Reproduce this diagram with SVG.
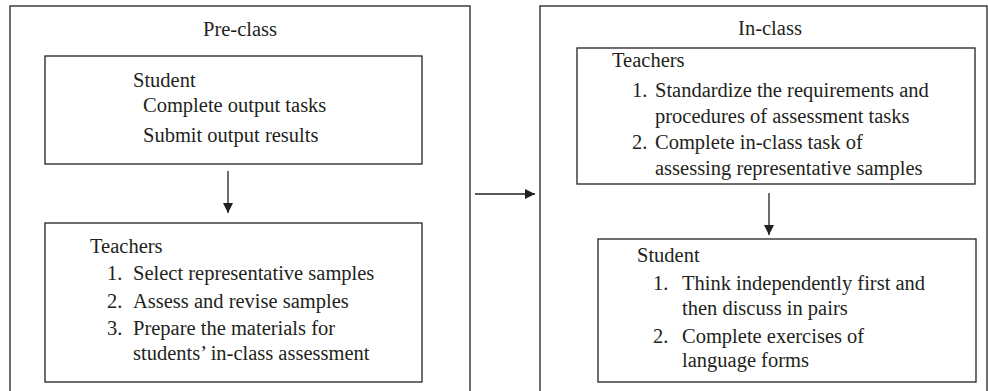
<svg xmlns="http://www.w3.org/2000/svg" width="988" height="391" viewBox="0 0 988 391">
<style>
.box{fill:none;stroke:#231f20;stroke-width:1.3}
.t{font-family:"Liberation Serif","Times New Roman",serif;font-size:20.5px;fill:#231f20}
.c{stroke:#231f20;stroke-width:1.3;fill:none}
</style>
<defs>
<marker id="ah" viewBox="0 0 10 10" refX="10" refY="5" markerWidth="10" markerHeight="10" markerUnits="userSpaceOnUse" orient="auto">
<path d="M0,0 L10,5 L0,10 z" fill="#231f20"/>
</marker>
</defs>
<g id="preclass">
<rect class="box" x="10" y="6" width="460" height="395"/>
<text class="t" x="240" y="36" text-anchor="middle">Pre-class</text>
</g>
<g id="pre-student">
<rect class="box" x="45" y="56" width="377" height="108"/>
<text class="t" x="133" y="87">Student</text>
<text class="t" x="143" y="112">Complete output tasks</text>
<text class="t" x="143" y="142">Submit output results</text>
</g>
<g id="pre-teachers">
<rect class="box" x="45" y="223" width="377" height="159"/>
<text class="t" x="90" y="253">Teachers</text>
<text class="t" x="107" y="280">1.</text><text class="t" x="133" y="280">Select representative samples</text>
<text class="t" x="107" y="308">2.</text><text class="t" x="133" y="308">Assess and revise samples</text>
<text class="t" x="107" y="335">3.</text><text class="t" x="133" y="335">Prepare the materials for</text>
<text class="t" x="133" y="360">students’ in-class assessment</text>
</g>
<g id="inclass">
<rect class="box" x="540" y="6" width="447" height="395"/>
<text class="t" x="770" y="35" text-anchor="middle">In-class</text>
</g>
<g id="in-teachers">
<rect class="box" x="577" y="48" width="398" height="136"/>
<text class="t" x="612" y="67">Teachers</text>
<text class="t" x="632" y="97">1.</text><text class="t" x="655" y="97">Standardize the requirements and</text>
<text class="t" x="655" y="123">procedures of assessment tasks</text>
<text class="t" x="632" y="149">2.</text><text class="t" x="655" y="149">Complete in-class task of</text>
<text class="t" x="655" y="175">assessing representative samples</text>
</g>
<g id="in-student">
<rect class="box" x="598" y="239" width="378" height="143"/>
<text class="t" x="637" y="262">Student</text>
<text class="t" x="653" y="290">1.</text><text class="t" x="682" y="290">Think independently first and</text>
<text class="t" x="682" y="315">then discuss in pairs</text>
<text class="t" x="653" y="343">2.</text><text class="t" x="682" y="343">Complete exercises of</text>
<text class="t" x="682" y="367">language forms</text>
</g>
<g id="connectors">
<line class="c" x1="228" y1="171" x2="228" y2="213" marker-end="url(#ah)"/>
<line class="c" x1="475" y1="194" x2="535" y2="194" marker-end="url(#ah)"/>
<line class="c" x1="769" y1="193" x2="769" y2="235" marker-end="url(#ah)"/>
</g>
</svg>
